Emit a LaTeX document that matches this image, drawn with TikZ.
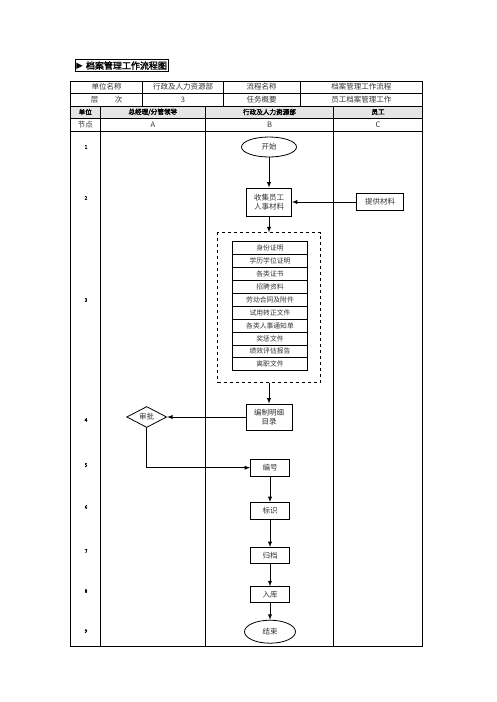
\documentclass[tikz,border=0pt]{standalone}
\usepackage{fontspec}
\setmainfont{Noto Sans CJK SC}[AutoFakeBold=2]
\newfontfamily\symfont{DejaVu Sans}
\usepackage{tikz}
\usetikzlibrary{arrows}
\usetikzlibrary{positioning,shapes.geometric}

\begin{document}
\begin{tikzpicture}[x=1pt,y=-1pt,>=latex,font=\fontsize{7.5}{9}\selectfont]
		\tikzstyle{cell}=[text=black!80, inner sep=0pt]
		\tikzstyle{head}=[inner sep=0pt, font=\fontsize{6.6}{7}\selectfont\bfseries]
		\tikzstyle{num}=[inner sep=0pt, font=\fontsize{5}{6}\selectfont\bfseries]
		\tikzstyle{box}=[draw, line width=0.8pt, fill=white, align=center, inner sep=0pt, text=black!80]
		\tikzstyle{term}=[box, ellipse]
		\tikzstyle{item}=[draw, line width=0.7pt, minimum width=75.4pt, minimum height=12.9pt, inner sep=0pt, text=black!80, font=\fontsize{6.8}{7}\selectfont]
		\tikzstyle{flow}=[->, line width=0.9pt]
		
		\useasboundingbox (0,0) rectangle (496,702);
		
		% title
		\node[draw, line width=0.8pt, anchor=west, inner xsep=1pt, inner ysep=1.5pt,
		      font=\fontsize{9}{10}\selectfont\bfseries] (title) at (75,65.7)
		      {{\symfont\fontsize{8.5}{9}\selectfont ▶}\hspace{3pt}档案管理工作流程图};
		
		% table
		\fill[gray!20] (70.7,106) rectangle (422.7,118);
		\draw[line width=0.8pt] (70.7,81) rectangle (422.7,646);
		\foreach \y in {93,106,118,131}
			\draw[line width=0.8pt] (70.7,\y) -- (422.7,\y);
		\foreach \x in {142.7,223.3,300}
			\draw[line width=0.8pt] (\x,81) -- (\x,106);
		\foreach \x in {100,205.7,333.3}
			\draw[line width=0.8pt] (\x,106) -- (\x,646);
		
		\node[cell] (unitname)  at (106.7,87)  {单位名称};
		\node[cell] (dept)      at (183,87)    {行政及人力资源部};
		\node[cell] (flowname)  at (261.7,87)  {流程名称};
		\node[cell] (flowtitle) at (361.3,87)  {档案管理工作流程};
		\node[cell] (level)     at (106.7,99.5) {层\hspace{2.2em}次};
		\node[cell] (levelval)  at (183,99.5)  {3};
		\node[cell] (task)      at (261.7,99.5) {任务概要};
		\node[cell] (taskval)   at (361.3,99.5) {员工档案管理工作};
		
		\node[head] (hunit) at (85.3,112)  {单位};
		\node[head] (hA)    at (152.8,112) {总经理/分管领导};
		\node[head] (hB)    at (269.5,112) {行政及人力资源部};
		\node[head] (hC)    at (378,112)   {员工};
		
		\node[cell] (node) at (85.3,124.5) {节点};
		\node[cell] (colA) at (152.8,124.5) {A};
		\node[cell] (colB) at (269.5,124.5) {B};
		\node[cell] (colC) at (378,124.5)   {C};
		
		\foreach \n/\y in {1/147,2/198,3/300,4/420,5/465,6/507,7/551,8/591,9/631}
			\node[num] (row\n) at (86,\y) {\n};
		
		% flow
		\node[term, minimum width=55pt, minimum height=20pt] (start) at (269,147) {开始};
		\node[box, minimum width=45pt, minimum height=28pt] (collect) at (269,202) {收集员工\\人事材料};
		\node[box, minimum width=47pt, minimum height=17pt] (provide) at (380,202) {提供材料};
		\node[draw, dashed, line width=0.7pt, minimum width=102.7pt, minimum height=149.6pt, inner sep=0pt] (docs) at (269,307.5) {};
		\foreach \t [count=\i] in {身份证明,学历学位证明,各类证书,招聘资料,劳动合同及附件,试用转正文件,各类人事通知单,奖惩文件,绩效评估报告,离职文件}
			\node[item] (doc\i) at (270,241.7+12.9*\i-6.45) {\t};
		\node[box, minimum width=46pt, minimum height=26pt] (catalog) at (269,417) {编制明细\\目录};
		\node[box, diamond, aspect=2, minimum width=40pt, minimum height=21pt] (approve) at (146.7,417) {审批};
		\node[box, minimum width=39pt, minimum height=17pt] (number)  at (270,467.7) {编号};
		\node[box, minimum width=39pt, minimum height=17pt] (mark)    at (270,511)   {标识};
		\node[box, minimum width=39pt, minimum height=16pt] (archive) at (270,555.5) {归档};
		\node[box, minimum width=39pt, minimum height=16pt] (store)   at (270,594.7) {入库};
		\node[term, minimum width=51pt, minimum height=23pt] (end)    at (270,631.7) {结束};
		
		\path[flow]
		(start)   edge (collect)
		(provide) edge (collect)
		(collect) edge (docs)
		(docs)    edge (catalog)
		(catalog) edge (approve)
		(number)  edge (mark)
		(mark)    edge (archive)
		(archive) edge (store)
		(store)   edge (end)
		;
		\draw[flow] (approve) |- (number);
\end{tikzpicture}
\end{document}
